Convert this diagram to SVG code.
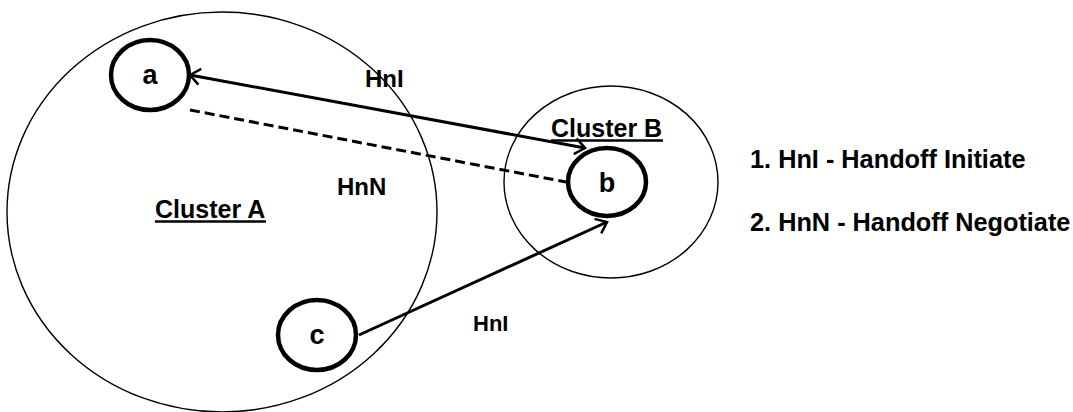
<svg xmlns="http://www.w3.org/2000/svg" width="1073" height="412" viewBox="0 0 1073 412">
<style>
.cluster{fill:none;stroke:#000;stroke-width:1.4}
.node{fill:#fff;stroke:#000;stroke-width:4.5}
.t{font-family:"Liberation Sans",Arial,sans-serif;font-weight:bold;fill:#000}
.edge{fill:none;stroke:#000;stroke-width:3}
.dash{stroke-dasharray:10 5}
</style>
<defs>
<marker id="arr" viewBox="-12 -10 14 20" refX="0" refY="0" markerWidth="14" markerHeight="20" markerUnits="userSpaceOnUse" orient="auto-start-reverse">
<path d="M-10,-8 L0,0 L-10,8" fill="none" stroke="#000" stroke-width="2.5"/>
</marker>
</defs>
<rect width="1073" height="412" fill="#fff"/>
<g id="clusterA">
<ellipse class="cluster" cx="222" cy="212" rx="215" ry="200"/>
<text class="t" x="155" y="218" font-size="25">Cluster A</text>
<line x1="155" y1="221.5" x2="266" y2="221.5" stroke="#000" stroke-width="2.5"/>
</g>
<g id="clusterB">
<ellipse class="cluster" cx="611" cy="182" rx="107" ry="96"/>
<text class="t" x="551" y="137" font-size="25">Cluster B</text>
<line x1="551" y1="140.5" x2="663" y2="140.5" stroke="#000" stroke-width="2.5"/>
</g>
<g id="connectors">
<line class="edge" x1="190" y1="75" x2="585" y2="148" marker-start="url(#arr)" marker-end="url(#arr)"/>
<line class="edge dash" x1="190" y1="110" x2="566" y2="182"/>
<line class="edge" x1="359" y1="335" x2="607" y2="222" marker-end="url(#arr)"/>
<text class="t" x="365" y="87" font-size="24">HnI</text>
<text class="t" x="337" y="195" font-size="24">HnN</text>
<text class="t" x="473" y="331" font-size="22">HnI</text>
</g>
<g id="node-a">
<ellipse class="node" cx="150" cy="75" rx="39" ry="35"/>
<text class="t" x="150" y="84" font-size="27" text-anchor="middle">a</text>
</g>
<g id="node-b">
<ellipse class="node" cx="607" cy="182" rx="39" ry="34"/>
<text class="t" x="607" y="192" font-size="27" text-anchor="middle">b</text>
</g>
<g id="node-c">
<ellipse class="node" cx="317" cy="335" rx="39" ry="35"/>
<text class="t" x="317" y="344" font-size="27" text-anchor="middle">c</text>
</g>
<g id="legend">
<text class="t" x="750" y="168" font-size="25.3">1. HnI - Handoff Initiate</text>
<text class="t" x="750" y="231" font-size="25.3">2. HnN - Handoff Negotiate</text>
</g>
</svg>
